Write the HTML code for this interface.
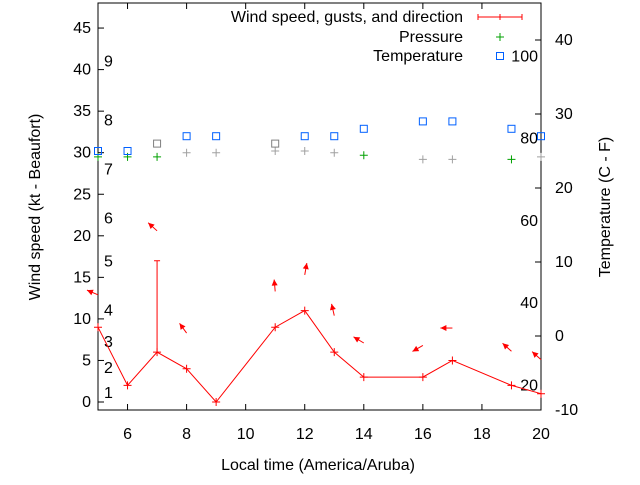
<!DOCTYPE html>
<html><head><meta charset="utf-8"><style>
body{margin:0;background:#fff;}
svg text{font-family:"Liberation Sans",sans-serif;font-size:16px;fill:#000;}
</style></head><body>
<svg id="c" width="640" height="480" xmlns="http://www.w3.org/2000/svg"></svg>
<script>
const hours=[5,6,7,8,9,11,12,13,14,16,17,19,20];
const wind=[9,2,6,4,0,9,11,6,3,3,5,2,1];
const gustHours=[7];
const gustValues=[17];
const pressure=[29.5,29.5,29.5,30,30,30.2,30.2,30,29.7,29.2,29.2,29.2,29.5];
const pressureColors=["#00a000","#00a000","#00a000","#a0a0a0","#a0a0a0","#a0a0a0","#a0a0a0","#a0a0a0","#00a000","#a0a0a0","#a0a0a0","#00a000","#a0a0a0"];
const temperature=[25,25,26,27,27,26,27,27,28,29,29,28,27];
const tempColors=["#0060ff","#0060ff","#808080","#0060ff","#0060ff","#808080","#0060ff","#0060ff","#0060ff","#0060ff","#0060ff","#0060ff","#0060ff"];
const arrowHours=[5,7,8,11,12,13,14,16,17,19,20];
const arrowLevels=[12.9,20.6,8.3,13.3,15.3,10.4,7.1,6.8,8.9,6.1,5.1];
const arrowAngles=[-157,-138,-126,-95,-80,-103,-149,150,180,-138,-138];
const xTicks=[6,8,10,12,14,16,18,20];
const yTicks=[0,5,10,15,20,25,30,35,40,45];
const y2Ticks=[-10,0,10,20,30,40];
const beaufortLabels=["1","2","3","4","5","6","7","8","9"];
const beaufortKt=[1.1,4.1,7.2,11,16.9,22.1,28,33.9,41];
const fLabels=["20","40","60","80","100"];
const fValues=[20,40,60,80,100];

const L=98,R=541,T=3,B=410;
const X=h=>L+(h-5)*(R-L)/15;
const Y=v=>402-v*8.31;
const Y2=v=>410-(v+10)*7.4;
const svg=document.getElementById('c');
const NS="http://www.w3.org/2000/svg";
function mk(tag,attrs,name,parent){const e=document.createElementNS(NS,tag);for(const k in attrs)e.setAttribute(k,attrs[k]);


(parent||svg).appendChild(e);return e;}
function txt(x,y,s,anchor,name,extra){const t=mk('text',Object.assign({x:x,y:y,'text-anchor':anchor},extra||{}),name);t.textContent=s;return t;}

mk('rect',{x:L,y:T,width:R-L,height:B-T,fill:'none',stroke:'#000','stroke-width':1},'plot-border');
xTicks.forEach(h=>{const x=X(h);
mk('line',{x1:x,y1:B,x2:x,y2:B-6,stroke:'#000'},'x-tick');
mk('line',{x1:x,y1:T,x2:x,y2:T+6,stroke:'#000'},'x-tick-top');
txt(x,439,String(h),'middle','x-tick-label');});
yTicks.forEach(v=>{const y=Y(v);
mk('line',{x1:L,y1:y,x2:L+6,y2:y,stroke:'#000'},'y-tick');
txt(91,y+5,String(v),'end','y-tick-label');});
y2Ticks.forEach(v=>{const y=Y2(v);
mk('line',{x1:R,y1:y,x2:R-6,y2:y,stroke:'#000'},'y2-tick');
txt(555,y+5,String(v),'start','y2-tick-label');});
beaufortLabels.forEach((s,i)=>txt(104,Y(beaufortKt[i])+5,s,'start','beaufort-label'));
fLabels.forEach((s,i)=>txt(538,Y2((fValues[i]-32)*5/9)+5,s,'end','fahrenheit-label'));
txt(318,470,'Local time (America/Aruba)','middle','x-axis-title');
txt(40,207,'Wind speed (kt - Beaufort)','middle','y-axis-title',{transform:'rotate(-90 40 207)'});
txt(610,207,'Temperature (C - F)','middle','y2-axis-title',{transform:'rotate(-90 610 207)'});

mk('polyline',{points:hours.map((h,i)=>X(h)+','+Y(wind[i])).join(' '),fill:'none',stroke:'#f00','stroke-width':1},'wind-line');
hours.forEach((h,i)=>{const x=X(h),y=Y(wind[i]);
mk('path',{d:`M${x-4},${y}H${x+4}M${x},${y-4}V${y+4}`,stroke:'#f00'},'wind-point');});
gustHours.forEach((h,i)=>{const x=X(h),j=hours.indexOf(h),y1=Y(wind[j]),y2=Y(gustValues[i]);
mk('path',{d:`M${x},${y1}V${y2}M${x-3},${y2}H${x+3}`,stroke:'#f00'},'gust-bar');});
arrowHours.forEach((h,i)=>{const x=X(h),y=Y(arrowLevels[i]),a=arrowAngles[i]*Math.PI/180;
const ex=x+12*Math.cos(a),ey=y+12*Math.sin(a);
const hx=Math.cos(a),hy=Math.sin(a);
const bx=ex-6*hx,by=ey-6*hy;
mk('line',{x1:x,y1:y,x2:ex,y2:ey,stroke:'#f00'},'wind-direction-arrow');
mk('polygon',{points:`${ex},${ey} ${bx-3*hy},${by+3*hx} ${bx+3*hy},${by-3*hx}`,fill:'#f00'},'wind-direction-head');});
hours.forEach((h,i)=>{const x=X(h),y=Y(pressure[i]);
mk('path',{d:`M${x-4},${y}H${x+4}M${x},${y-4}V${y+4}`,stroke:pressureColors[i]},'pressure-point');});
hours.forEach((h,i)=>{const x=X(h),y=Y2(temperature[i]);
mk('rect',{x:x-3.5,y:y-3.5,width:7,height:7,fill:'none',stroke:tempColors[i]},'temperature-point');});
txt(463,22,'Wind speed, gusts, and direction','end','legend-wind-label');
mk('path',{d:'M478,17H522M478,14V20M522,14V20M500,14V20',stroke:'#f00'},'legend-wind-sample');
txt(463,42,'Pressure','end','legend-pressure-label');
mk('path',{d:'M496,37H504M500,33V41',stroke:'#00a000'},'legend-pressure-sample');
txt(463,61,'Temperature','end','legend-temperature-label');
mk('rect',{x:496.5,y:52.5,width:7,height:7,fill:'none',stroke:'#0060ff'},'legend-temperature-sample');
</script>
</body></html>
